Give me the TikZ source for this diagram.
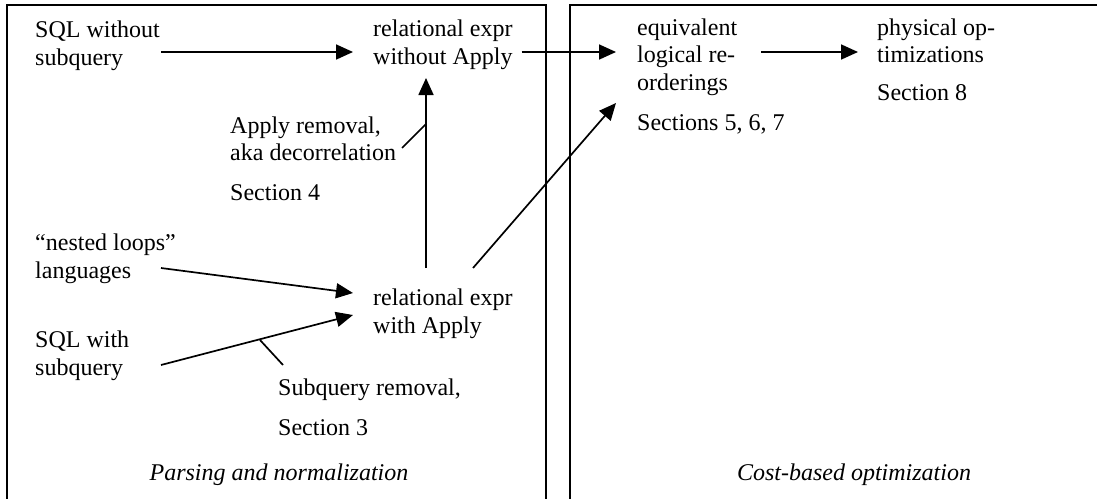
\documentclass[tikz,border=0pt]{standalone}
\usepackage{fontspec}
\setmainfont{Liberation Serif}
\usetikzlibrary{arrows.meta}
\begin{document}
\begin{tikzpicture}[x=1pt,y=-1pt,
  txt/.style={anchor=base west, inner sep=0pt, align=left, font=\fontsize{24}{27.6}\selectfont},
  captxt/.style={anchor=base, inner sep=0pt, font=\fontsize{24}{27.6}\selectfont\itshape},
  frame/.style={line width=2pt, line cap=rect},
  conn/.style={line width=1.7pt},
  arr/.style={conn, -{Triangle[length=17pt,width=15pt]}}]
\useasboundingbox (0,0) rectangle (1097,498);
% frames
\draw[frame] (7,499) -- (7,4.7) -- (545.7,4.7) -- (545.7,499);
\draw[frame] (570,499) -- (570,4.7) -- (1098,4.7);
% text nodes (anchored at the baseline of their last line)
\node[txt] (sqlwo) at (35,65) {SQL without\\subquery};
\node[txt] (relwo) at (373,64.5) {relational expr\\without Apply};
\node[txt] (equiv) at (637,130) {equivalent\\logical re-\\orderings\\[12.2pt]Sections 5, 6, 7};
\node[txt] (phys) at (877,100) {physical op-\\timizations\\[9.8pt]Section 8};
\node[txt] (applyrm) at (230,200) {Apply removal,\\aka decorrelation\\[11.8pt]Section 4};
\node[txt] (nested) at (35,278) {``nested loops''\\languages};
\node[txt] (relw) at (373,333) {relational expr\\with Apply};
\node[txt] (sqlw) at (35,375) {SQL with\\subquery};
\node[txt] (subrm) at (278,435) {Subquery removal,\\[12.4pt]Section 3};
\node[captxt] (parsing) at (279,480) {Parsing and normalization};
\node[captxt] (cost) at (854,480) {Cost-based optimization};
% connector end points
\coordinate (a1s) at (161,52);   \coordinate (a1e) at (353,52);
\coordinate (a2s) at (521.7,52); \coordinate (a2e) at (616,52);
\coordinate (a3s) at (761,52);   \coordinate (a3e) at (858,52);
\coordinate (a4s) at (426,268);  \coordinate (a4e) at (426,78);
\coordinate (a5s) at (473,268);  \coordinate (a5e) at (616,103);
\coordinate (a6s) at (161,268);  \coordinate (a6e) at (353,293);
\coordinate (a7s) at (161,365);  \coordinate (a7e) at (353,315);
\coordinate (t1s) at (402,148);  \coordinate (t1e) at (426,124);
\coordinate (t2s) at (260,340);  \coordinate (t2e) at (283,365);
% connectors
\draw[arr] (a1s) -- (a1e);
\draw[arr] (a2s) -- (a2e);
\draw[arr] (a3s) -- (a3e);
\draw[arr] (a4s) -- (a4e);
\draw[arr] (a5s) -- (a5e);
\draw[arr] (a6s) -- (a6e);
\draw[arr] (a7s) -- (a7e);
\draw[conn] (t1s) -- (t1e);
\draw[conn] (t2s) -- (t2e);
\end{tikzpicture}
\end{document}
